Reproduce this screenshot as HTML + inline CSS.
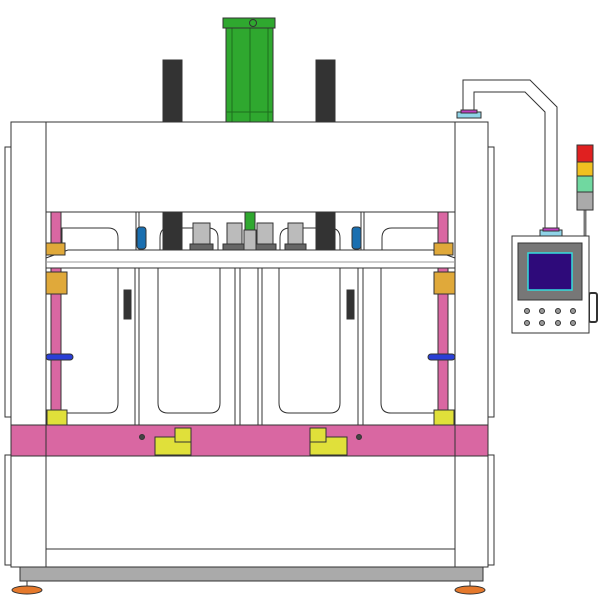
<!DOCTYPE html>
<html><head><meta charset="utf-8"><style>html,body{margin:0;padding:0;background:#fff}svg{display:block}</style></head>
<body>
<svg width="600" height="600" viewBox="0 0 600 600" xmlns="http://www.w3.org/2000/svg">
<g stroke="#333" stroke-width="1" fill="#fff">
<!-- side panels -->
<rect x="5" y="147" width="6" height="270"/>
<rect x="488" y="147" width="6" height="270"/>
<rect x="5" y="455" width="6" height="110"/>
<rect x="488" y="455" width="6" height="110"/>
<!-- posts above -->
<rect x="163" y="60" width="19" height="62" fill="#333"/>
<rect x="316" y="60" width="19" height="62" fill="#333"/>
<!-- cylinder -->
<rect x="226" y="28" width="47" height="94" fill="#2fa82f"/>
<line x1="232" y1="28" x2="232" y2="122" stroke="#1d6e1d"/>
<line x1="250" y1="28" x2="250" y2="122" stroke="#1d6e1d"/>
<line x1="268" y1="28" x2="268" y2="122" stroke="#1d6e1d"/>
<line x1="226" y1="112" x2="273" y2="112" stroke="#1d6e1d"/>
<rect x="223" y="18" width="52" height="10" fill="#2fa82f"/>
<circle cx="253" cy="23" r="3.5" fill="none"/>
<!-- frame -->
<rect x="11" y="122" width="477" height="445"/>
<line x1="46" y1="122" x2="46" y2="567"/>
<line x1="455" y1="122" x2="455" y2="567"/>
<line x1="46" y1="212" x2="455" y2="212"/>
<!-- upper interior -->
<line x1="136" y1="212" x2="136" y2="250"/><line x1="139" y1="212" x2="139" y2="250"/>
<line x1="361" y1="212" x2="361" y2="250"/><line x1="364" y1="212" x2="364" y2="250"/>
<path d="M62 250 V228 H108 Q118 228 118 238 V250" fill="none"/>
<path d="M160 250 V238 Q160 228 168 228 H208 Q218 228 218 238 V250" fill="none"/>
<path d="M280 250 V238 Q280 228 290 228 H330 Q340 228 340 238 V250" fill="none"/>
<path d="M382 250 V238 Q382 228 392 228 H438" fill="none"/>
<rect x="163" y="212" width="19" height="38" fill="#333"/>
<rect x="316" y="212" width="19" height="38" fill="#333"/>
<rect x="137" y="227" width="9" height="22" rx="3" fill="#1a6fb0"/>
<rect x="352" y="227" width="9" height="22" rx="3" fill="#1a6fb0"/>
<g fill="#bbb">
<rect x="193" y="223" width="17" height="21"/><rect x="227" y="223" width="15" height="21"/>
<rect x="257" y="223" width="16" height="21"/><rect x="288" y="223" width="15" height="21"/>
<rect x="190" y="244" width="23" height="6" fill="#666"/><rect x="223" y="244" width="22" height="6" fill="#666"/>
<rect x="254" y="244" width="22" height="6" fill="#666"/><rect x="285" y="244" width="21" height="6" fill="#666"/>
<rect x="244" y="230" width="12" height="20"/>
</g>
<rect x="245" y="212" width="10" height="18" fill="#2fa82f"/>
<!-- pink rods -->
<rect x="51" y="212" width="10" height="213" fill="#d967a2"/>
<rect x="438" y="212" width="10" height="213" fill="#d967a2"/>
<!-- plate -->
<path d="M46 258 L68 250 H433 L455 258 V268 H46 Z"/>
<line x1="46" y1="262" x2="455" y2="262" stroke="#999"/>
<rect x="46" y="243" width="19" height="12" fill="#e0a93a"/>
<rect x="434" y="243" width="19" height="12" fill="#e0a93a"/>
<rect x="46" y="272" width="21" height="22" fill="#e0a93a"/>
<rect x="434" y="272" width="21" height="22" fill="#e0a93a"/>
<!-- lower doors -->
<line x1="135" y1="268" x2="135" y2="425"/><line x1="139" y1="268" x2="139" y2="425"/>
<line x1="235" y1="268" x2="235" y2="425"/><line x1="240" y1="268" x2="240" y2="425"/>
<line x1="258" y1="268" x2="258" y2="425"/><line x1="262" y1="268" x2="262" y2="425"/>
<line x1="358" y1="268" x2="358" y2="425"/><line x1="363" y1="268" x2="363" y2="425"/>
<path d="M118 268 V403 Q118 413 108 413 H65" fill="none"/>
<path d="M158 268 V403 Q158 413 168 413 H210 Q220 413 220 403 V268" fill="none"/>
<path d="M279 268 V403 Q279 413 289 413 H330 Q340 413 340 403 V268" fill="none"/>
<path d="M381 268 V403 Q381 413 391 413 H436" fill="none"/>
<rect x="124" y="290" width="7" height="29" fill="#333"/>
<rect x="347" y="290" width="7" height="29" fill="#333"/>
<rect x="46" y="354" width="27" height="6" rx="3" fill="#2a3fd6"/>
<rect x="428" y="354" width="27" height="6" rx="3" fill="#2a3fd6"/>
<rect x="47" y="410" width="20" height="15" fill="#e0e03a"/>
<rect x="434" y="410" width="20" height="15" fill="#e0e03a"/>
<!-- pink band -->
<rect x="11" y="425" width="477" height="31" fill="#d967a2"/>
<line x1="46" y1="425" x2="46" y2="456"/><line x1="455" y1="425" x2="455" y2="456"/>
<circle cx="142" cy="437" r="2.5" fill="#444"/><circle cx="359" cy="437" r="2.5" fill="#444"/>
<rect x="155" y="437" width="36" height="18" fill="#e0e03a"/><rect x="175" y="428" width="16" height="14" fill="#e0e03a"/>
<rect x="310" y="437" width="37" height="18" fill="#e0e03a"/><rect x="310" y="428" width="16" height="14" fill="#e0e03a"/>
<line x1="46" y1="549" x2="455" y2="549"/>
<!-- base -->
<rect x="20" y="567" width="463" height="14" fill="#aaa"/>
<ellipse cx="27" cy="590" rx="15" ry="4" fill="#e5792c"/>
<ellipse cx="470" cy="590" rx="15" ry="4" fill="#e5792c"/>
<line x1="27" y1="581" x2="27" y2="586"/><line x1="470" y1="581" x2="470" y2="586"/>
<!-- cable -->
<path d="M463 112 V80 H530 L557 107 V232" fill="none"/>
<path d="M474 112 V92 H525 L545 112 V232" fill="none"/>
<rect x="457" y="112" width="24" height="6" fill="#8fd4e8"/><rect x="461" y="110" width="16" height="3" fill="#c040c0"/>
<rect x="540" y="230" width="22" height="6" fill="#8fd4e8"/><rect x="543" y="228" width="16" height="3" fill="#c040c0"/>
<!-- signal tower -->
<line x1="585" y1="210" x2="585" y2="236" stroke-width="3" stroke="#777"/>
<rect x="577" y="145" width="16" height="17" fill="#e02020"/>
<rect x="577" y="162" width="16" height="14" fill="#f0c020"/>
<rect x="577" y="176" width="16" height="16" fill="#70d8a0"/>
<rect x="577" y="192" width="16" height="18" fill="#aaa"/>
<!-- control panel -->
<rect x="589" y="293" width="8" height="29" rx="2" fill="none" stroke-width="2"/>
<rect x="512" y="236" width="77" height="97"/>
<rect x="518" y="243" width="64" height="57" fill="#777"/>
<rect x="528" y="253" width="44" height="37" fill="#2e0a7a" stroke="#3dd" stroke-width="1.5"/>
<g fill="#999">
<circle cx="527" cy="311" r="2.5"/><circle cx="542" cy="311" r="2.5"/><circle cx="558" cy="311" r="2.5"/><circle cx="573" cy="311" r="2.5"/>
<circle cx="527" cy="323" r="2.5"/><circle cx="542" cy="323" r="2.5"/><circle cx="558" cy="323" r="2.5"/><circle cx="573" cy="323" r="2.5"/>
</g>
</g>
</svg>
</body></html>
